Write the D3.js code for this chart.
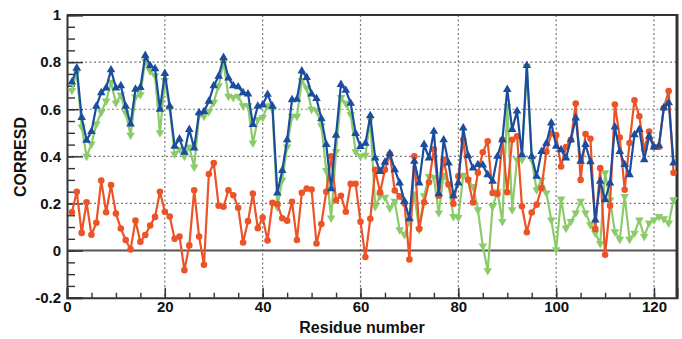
<!DOCTYPE html>
<html lang="en">

<head>
	<meta charset="utf-8">
	<title>CORRESD per residue</title>
	<script src="https://d3js.org/d3.v7.min.js"></script>
	<style type="text/css">
		body {
			margin: 0;
			background: #fff;
		}
		text {
			font-family: "Liberation Sans", Arial, sans-serif;
			font-weight: bold;
		}
	</style>
</head>

<body>
	<script type="text/javascript">

		//Width and height
		let w = 682;
		let h = 339;
		let padLeft = 67, padRight = 677, padTop = 15, padBottom = 297.7;

		// values read per residue (1..124)
		let blue = [
			0.715, 0.775, 0.565, 0.468, 0.505, 0.613, 0.67, 0.69, 0.767, 0.69,
			0.70, 0.613, 0.537, 0.685, 0.692, 0.828, 0.785, 0.772, 0.60, 0.752,
			0.613, 0.443, 0.474, 0.417, 0.514, 0.435, 0.585, 0.59, 0.634, 0.70,
			0.74, 0.82, 0.733, 0.70, 0.695, 0.67, 0.665, 0.535, 0.613, 0.618,
			0.663, 0.613, 0.244, 0.34, 0.47, 0.64, 0.642, 0.762, 0.735, 0.665,
			0.645, 0.56, 0.45, 0.262, 0.49, 0.705, 0.68, 0.625, 0.497, 0.442,
			0.455, 0.573, 0.393, 0.336, 0.375, 0.412, 0.343, 0.287, 0.209, 0.135,
			0.379, 0.287, 0.45, 0.393, 0.506, 0.241, 0.47, 0.372, 0.233, 0.287,
			0.52, 0.403, 0.35, 0.365, 0.363, 0.322, 0.294, 0.40, 0.47, 0.684,
			0.514, 0.592, 0.407, 0.786, 0.40, 0.315, 0.42, 0.455, 0.542, 0.443,
			0.428, 0.393, 0.47, 0.563, 0.379, 0.45, 0.377, 0.13, 0.294, 0.216,
			0.287, 0.525, 0.42, 0.365, 0.322, 0.492, 0.514, 0.386, 0.485, 0.44,
			0.445, 0.606, 0.627, 0.372];

		let green = [
			0.68, 0.757, 0.525, 0.40, 0.452, 0.537, 0.587, 0.635, 0.715, 0.627,
			0.66, 0.585, 0.49, 0.652, 0.662, 0.805, 0.762, 0.742, 0.50, 0.722,
			0.605, 0.41, 0.43, 0.40, 0.44, 0.355, 0.575, 0.57, 0.59, 0.63,
			0.70, 0.80, 0.655, 0.65, 0.655, 0.615, 0.615, 0.457, 0.556, 0.565,
			0.615, 0.60, 0.185, 0.30, 0.44, 0.57, 0.57, 0.722, 0.69, 0.60,
			0.595, 0.53, 0.34, 0.138, 0.42, 0.65, 0.625, 0.578, 0.42, 0.40,
			0.405, 0.556, 0.187, 0.233, 0.226, 0.18, 0.209, 0.088, 0.067, 0.125,
			0.24, 0.088, 0.233, 0.315, 0.31, 0.16, 0.32, 0.28, 0.145, 0.14,
			0.32, 0.30, 0.272, 0.173, 0.02, -0.085, 0.187, 0.25, 0.123, 0.613,
			0.173, 0.386, 0.386, 0.783, 0.386, 0.258, 0.30, 0.245, 0.13, 0.004,
			0.219, 0.095, 0.123, 0.16, 0.21, 0.16, 0.11, 0.075, 0.03, 0.33,
			0.215, 0.08, 0.048, 0.23, 0.048, 0.074, 0.13, 0.06, 0.117, 0.13,
			0.145, 0.135, 0.117, 0.216];

		let red = [
			0.163, 0.25, 0.075, 0.205, 0.067, 0.118, 0.297, 0.163, 0.278, 0.157,
			0.094, 0.045, 0.005, 0.127, 0.037, 0.066, 0.106, 0.143, 0.25, 0.165,
			0.145, 0.05, 0.06, -0.083, 0.022, 0.256, 0.06, -0.06, 0.325, 0.372,
			0.19, 0.186, 0.256, 0.235, 0.182, 0.034, 0.125, 0.242, 0.095, 0.14,
			0.043, 0.203, 0.198, 0.137, 0.127, 0.207, 0.045, 0.245, 0.263, 0.259,
			0.03, 0.113, 0.25, 0.40, 0.214, 0.233, 0.165, 0.283, 0.284, 0.122,
			-0.027, 0.135, 0.343, 0.247, 0.343, 0.41, 0.255, 0.23, 0.20, -0.038,
			0.40, 0.093, 0.205, 0.29, 0.43, 0.233, 0.386, 0.28, 0.199, 0.315,
			0.47, 0.30, 0.204, 0.33, 0.417, 0.464, 0.244, 0.24, 0.47, 0.248,
			0.47, 0.485, 0.188, 0.078, 0.162, 0.195, 0.265, 0.42, 0.497, 0.49,
			0.357, 0.44, 0.47, 0.624, 0.30, 0.495, 0.475, 0.092, 0.35, -0.018,
			0.19, 0.62, 0.48, 0.258, 0.457, 0.638, 0.57, 0.43, 0.505, 0.44,
			0.44, 0.605, 0.677, 0.33];

		let xTicks = [0, 20, 40, 60, 80, 100, 120];
		let yTicks = [-0.2, 0, 0.2, 0.4, 0.6, 0.8, 1];

		let xScale = d3.scaleLinear()
			.domain([0, 124.7])
			.range([padLeft, padRight]);

		let yScale = d3.scaleLinear()
			.domain([-0.2, 1])
			.range([padBottom, padTop]);

		//Create SVG element
		let svg = d3.select("body")
			.append("svg")
			.attr("width", w)
			.attr("height", h);

		// dotted grid
		svg.append("g")
			.selectAll("line")
			.data(xTicks.filter(function (d) { return d > 0; }))
			.enter()
			.append("line")
			.attr("x1", function (d) { return xScale(d); })
			.attr("x2", function (d) { return xScale(d); })
			.attr("y1", padTop)
			.attr("y2", padBottom)
			.attr("stroke", "#777")
			.attr("stroke-width", 1.2)
			.attr("stroke-dasharray", "2,2.5");

		svg.append("g")
			.selectAll("line")
			.data(yTicks.filter(function (d) { return d > 0 && d < 1; }))
			.enter()
			.append("line")
			.attr("x1", padLeft)
			.attr("x2", padRight)
			.attr("y1", function (d) { return yScale(d); })
			.attr("y2", function (d) { return yScale(d); })
			.attr("stroke", "#777")
			.attr("stroke-width", 1.2)
			.attr("stroke-dasharray", "2,2.5");

		// zero line
		svg.append("line")
			.attr("x1", padLeft)
			.attr("x2", padRight)
			.attr("y1", yScale(0))
			.attr("y2", yScale(0))
			.attr("stroke", "#555")
			.attr("stroke-width", 2);

		// minor ticks
		svg.append("g")
			.attr("transform", "translate(" + padLeft + ",0)")
			.call(d3.axisLeft(yScale).tickValues(d3.range(-0.2, 1.001, 0.05)).tickSize(-8).tickFormat(""))
			.call(function (g) { g.select(".domain").remove(); })
			.selectAll("line").attr("stroke", "#333").attr("stroke-width", 1.3);

		svg.append("g")
			.attr("transform", "translate(0," + padBottom + ")")
			.call(d3.axisBottom(xScale).tickValues(d3.range(0, 124, 5)).tickSize(-5).tickFormat(""))
			.call(function (g) { g.select(".domain").remove(); })
			.selectAll("line").attr("stroke", "#333").attr("stroke-width", 1.3);

		// major axes
		let yAxis = svg.append("g")
			.attr("transform", "translate(" + padLeft + ",0)")
			.call(d3.axisLeft(yScale)
				.tickValues(yTicks)
				.tickSize(-16)
				.tickPadding(6)
				.tickFormat(function (d) { return String(+d.toFixed(1)); }));

		let xAxis = svg.append("g")
			.attr("transform", "translate(0," + padBottom + ")")
			.call(d3.axisBottom(xScale)
				.tickValues(xTicks)
				.tickSize(-10)
				.tickPadding(4)
				.tickFormat(function (d) { return d; }));

		svg.selectAll(".tick text")
			.attr("font-size", "15px")
			.attr("font-family", "'Liberation Sans', Arial, sans-serif")
			.attr("font-weight", "bold")
			.attr("fill", "#111");
		svg.selectAll(".tick line").attr("stroke", "#333").attr("stroke-width", 1.4);
		svg.selectAll(".domain").attr("stroke", "#333").attr("stroke-width", 2);

		// frame top and right
		svg.append("line")
			.attr("x1", padLeft).attr("x2", padRight)
			.attr("y1", padTop).attr("y2", padTop)
			.attr("stroke", "#333").attr("stroke-width", 2);
		svg.append("line")
			.attr("x1", padRight).attr("x2", padRight)
			.attr("y1", padTop - 1).attr("y2", padBottom)
			.attr("stroke", "#333").attr("stroke-width", 3);

		// series
		let series = [
			{ name: "green", values: green, color: "#8ccb6a", shape: "down" },
			{ name: "red", values: red, color: "#ec5326", shape: "circle" },
			{ name: "blue", values: blue, color: "#1b4d9f", shape: "up" }
		];

		let line = d3.line()
			.x(function (d, i) { return xScale(i + 1); })
			.y(function (d) { return yScale(d); });

		let plot = svg.append("g");

		series.forEach(function (s) {
			let g = plot.append("g");
			g.append("path")
				.datum(s.values)
				.attr("d", line)
				.attr("fill", "none")
				.attr("stroke", s.color)
				.attr("stroke-width", 2.2)
				.attr("stroke-linejoin", "round");

			let sym = s.shape == "circle" ? d3.symbol().type(d3.symbolCircle).size(34)
				: d3.symbol().type(d3.symbolTriangle).size(32);

			g.selectAll("path.mark")
				.data(s.values)
				.enter()
				.append("path")
				.attr("class", "mark")
				.attr("d", sym)
				.attr("transform", function (d, i) {
					return "translate(" + xScale(i + 1) + "," + yScale(d) + ")" + (s.shape == "down" ? " rotate(180)" : "");
				})
				.attr("fill", s.color);
		});

		// axis titles
		svg.append("text")
			.text("Residue number")
			.attr("x", 362)
			.attr("y", 333)
			.attr("text-anchor", "middle")
			.attr("font-size", "16px")
			.attr("fill", "#111");

		svg.append("text")
			.text("CORRESD")
			.attr("transform", "translate(26,157) rotate(-90)")
			.attr("text-anchor", "middle")
			.attr("font-size", "16px")
			.attr("fill", "#111");

	</script>
</body>

</html>
